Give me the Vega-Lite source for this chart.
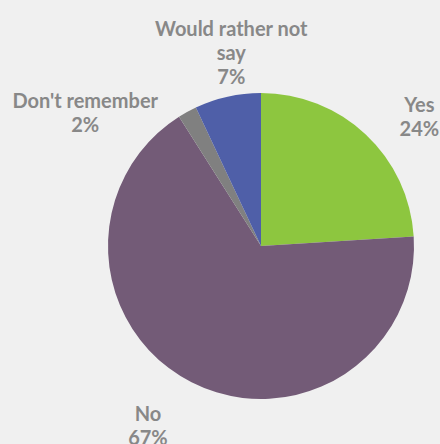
{
  "$schema": "https://vega.github.io/schema/vega-lite/v6.json",
  "width": 358,
  "height": 396,
  "autosize": "none",
  "padding": {"left": 82, "top": 48, "right": 0, "bottom": 0},
  "background": "#f0f0f0",
  "config": {"view": {"stroke": null}},
  "data": {
    "values": [
      {"category": "Yes", "value": 24, "order": 1, "label": "Yes\n24%"},
      {"category": "No", "value": 67, "order": 2, "label": "No\n67%"},
      {"category": "Don't remember", "value": 2, "order": 3, "label": "Don't remember\n2%"},
      {"category": "Would rather not say", "value": 7, "order": 4, "label": "Would rather not\nsay\n7%"}
    ]
  },
  "encoding": {
    "theta": {"field": "value", "type": "quantitative", "stack": true},
    "order": {"field": "order", "type": "quantitative"}
  },
  "layer": [
    {
      "mark": {"type": "arc", "outerRadius": 153},
      "encoding": {
        "color": {
          "field": "category",
          "type": "nominal",
          "scale": {
            "domain": ["Yes", "No", "Don't remember", "Would rather not say"],
            "range": ["#8dc63f", "#735b77", "#808080", "#4f5fa8"]
          },
          "legend": null
        }
      }
    },
    {
      "mark": {"type": "text", "radius": 205, "fontSize": 20, "fontWeight": "bold", "font": "Lato", "color": "#888888", "lineBreak": "\n", "lineHeight": 24, "dx": 18, "dy": 9},
      "encoding": {"text": {"condition": {"test": "datum.order === 1", "field": "label"}, "value": ""}}
    },
    {
      "mark": {"type": "text", "radius": 205, "fontSize": 20, "fontWeight": "bold", "font": "Lato", "color": "#888888", "lineBreak": "\n", "lineHeight": 24, "dx": -20, "dy": -14},
      "encoding": {"text": {"condition": {"test": "datum.order === 2", "field": "label"}, "value": ""}}
    },
    {
      "mark": {"type": "text", "radius": 205, "fontSize": 20, "fontWeight": "bold", "font": "Lato", "color": "#888888", "lineBreak": "\n", "lineHeight": 24, "dx": -77, "dy": 36},
      "encoding": {"text": {"condition": {"test": "datum.order === 3", "field": "label"}, "value": ""}}
    },
    {
      "mark": {"type": "text", "radius": 205, "fontSize": 20, "fontWeight": "bold", "font": "Lato", "color": "#888888", "lineBreak": "\n", "lineHeight": 24, "dx": 15, "dy": -16},
      "encoding": {"text": {"condition": {"test": "datum.order === 4", "field": "label"}, "value": ""}}
    }
  ]
}
